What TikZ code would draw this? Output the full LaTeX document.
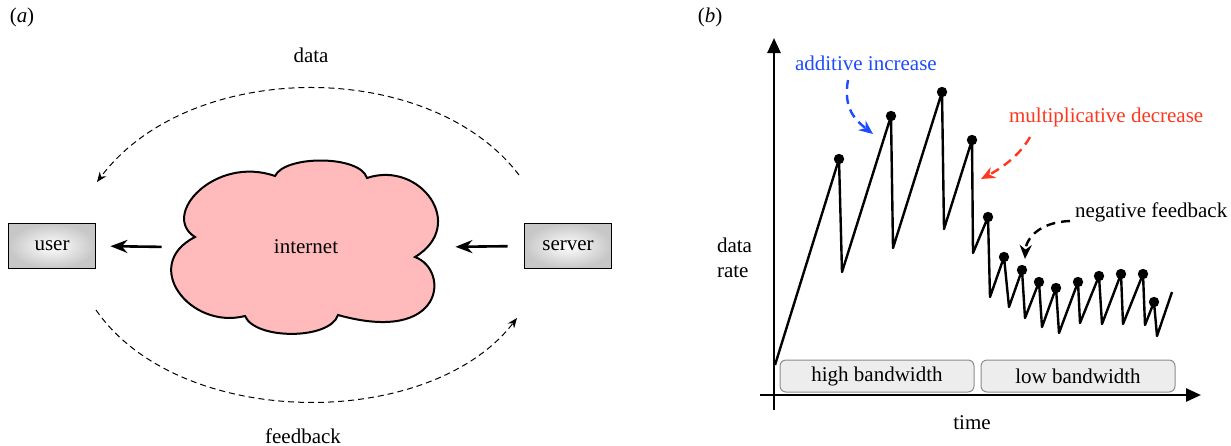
\documentclass[tikz,border=0pt]{standalone}
\usepackage{fontspec}
\setmainfont{LiberationSerif}[Extension=.ttf,UprightFont=*-Regular,ItalicFont=*-Italic,BoldFont=*-Bold]
\usetikzlibrary{arrows.meta}

\definecolor{netpink}{RGB}{255,187,187}
\definecolor{addblue}{RGB}{30,75,255}
\definecolor{multred}{RGB}{255,55,30}

\begin{document}
\begin{tikzpicture}[x=0.5pt,y=-0.5pt,font=\fontsize{10.5}{12.5}\selectfont,
    hostbox/.style={draw,line width=0.9pt,inner color=white,outer color=black!22,
        minimum width=43.5pt,minimum height=22.5pt,inner sep=0pt},
    flowarrow/.style={line width=1.3pt,-{Stealth[length=8.5pt,width=6.5pt]}},
    looparrow/.style={line width=0.5pt,dash pattern=on 3pt off 2pt,-{Stealth[length=5pt,width=4pt]}},
    axisarrow/.style={line width=1.3pt,-{Triangle[length=7.5pt,width=6.5pt]}},
    bandbox/.style={draw=black!45,fill=black!7,rounded corners=3pt,line width=0.5pt,
        minimum width=97pt,minimum height=16pt,inner sep=0pt},
    notearrow/.style={line width=1.2pt,dash pattern=on 4.5pt off 3pt,-{Stealth[length=7pt,width=6pt]}}]

	%Fix the page to the size of the reference
	\useasboundingbox (0,0) rectangle (1231,445);

%%%%%%%%%%%%%%%%%%%%%%%%%%%%%%%%%%%%%%%%%%%%%%%%%%%%%%%%%%%%%%%%%%%%%
%	(a) user, internet and server with the data/feedback loop        %
%%%%%%%%%%%%%%%%%%%%%%%%%%%%%%%%%%%%%%%%%%%%%%%%%%%%%%%%%%%%%%%%%%%%%

	\node (labela) at (22,17) {(\textit{a})};

	\node[hostbox] (user) at (52,246) {user};
	\node[hostbox] (server) at (568,246) {server};

	%The cloud, one puff from dip to dip
	\draw[line width=1pt, fill=netpink]
		(195,237) .. controls (160,215) and (215,155) .. (275,176)
		.. controls (285,155) and (360,155) .. (367,178)
		.. controls (420,160) and (468,225) .. (415,257)
		.. controls (450,270) and (445,345) .. (338,315)
		.. controls (330,340) and (255,340) .. (245,316)
		.. controls (190,330) and (140,265) .. cycle;
	\node[minimum width=134pt, minimum height=86.5pt] (net) at (306,247) {internet};

	%Thick arrows towards the user
	\draw[flowarrow, shorten <=5pt, shorten >=7pt] (net.west) -- (user.east);
	\draw[flowarrow, shorten <=8pt, shorten >=7.5pt] (server.west) -- (net.east);

	%Ends of the dashed loop
	\coordinate (dataout) at (519,175);
	\coordinate (datain) at (97,182);
	\coordinate (fbout) at (96,310);
	\coordinate (fbin) at (517,318);

	\draw[looparrow] (dataout) .. controls (430,58) and (190,58) .. (datain);
	\draw[looparrow] (fbout) .. controls (180,431) and (430,431) .. (fbin);

	\node (datatext) at (311,55) {data};
	\node (fbtext) at (303,436) {feedback};

%%%%%%%%%%%%%%%%%%%%%%%%%%%%%%%%%%%%%%%%%%%%%%%%%%%%%%%%%%%%%%%%%%%%%
%	(b) data rate against time                                        %
%%%%%%%%%%%%%%%%%%%%%%%%%%%%%%%%%%%%%%%%%%%%%%%%%%%%%%%%%%%%%%%%%%%%%

	\node (labelb) at (710,17) {(\textit{b})};

	%Axes
	\coordinate (origin) at (774,395);
	\coordinate (ytop) at (774,38);
	\coordinate (xend) at (1201,395);
	\draw[axisarrow] ([yshift=-7.5pt]origin) -- (ytop);
	\draw[axisarrow] ([xshift=-7pt]origin) -- (xend);

	\node[align=left, anchor=west] (ylabel) at (710,258) {data\\rate};
	\node (xlabel) at (972,423) {time};

	\node[bandbox] (high) at (877,376) {high bandwidth};
	\node[bandbox] (low) at (1078,376) {low bandwidth};

	%Sawtooth of the data rate
	\draw[line width=1.2pt, line join=round] plot coordinates {
		(775,365) (839,159) (842,272) (891,116) (893,248) (942,92) (944,229)
		(972,140) (973,253) (988,217) (990,297) (1004,257) (1009,307)
		(1022,270) (1025,318) (1039,282) (1042,327) (1056,288) (1059,333)
		(1078,282) (1080,323) (1099,276) (1102,324) (1121,274) (1123,324)
		(1143,274) (1145,325) (1154,302) (1157,336) (1172,292)};

	%Peaks
	\foreach \px/\py in {839/159, 891/116, 942/92, 972/140, 988/217, 1004/257,
		1022/270, 1039/282, 1056/288, 1078/282, 1099/276, 1121/274, 1143/274, 1154/302}
		\fill (\px,\py) circle (2.6pt);

	%Notes
	\node[addblue, anchor=west] (addinc) at (788,63) {additive increase};
	\node[multred, anchor=west] (multdec) at (1002,117) {multiplicative decrease};
	\node[anchor=west] (negfb) at (1068,212) {negative feedback};

	\coordinate (addfrom) at (848,80);
	\coordinate (addto) at (873,134);
	\coordinate (multfrom) at (1030,137);
	\coordinate (multto) at (981,179);
	\coordinate (negfrom) at (1070,221);
	\coordinate (negto) at (1025,259);

	\draw[notearrow, addblue] (addfrom) .. controls (843,108) and (855,120) .. (addto);
	\draw[notearrow, multred] (multfrom) .. controls (1020,155) and (1002,168) .. (multto);
	\draw[notearrow] (negfrom) .. controls (1040,222) and (1026,238) .. (negto);

\end{tikzpicture}
\end{document}
